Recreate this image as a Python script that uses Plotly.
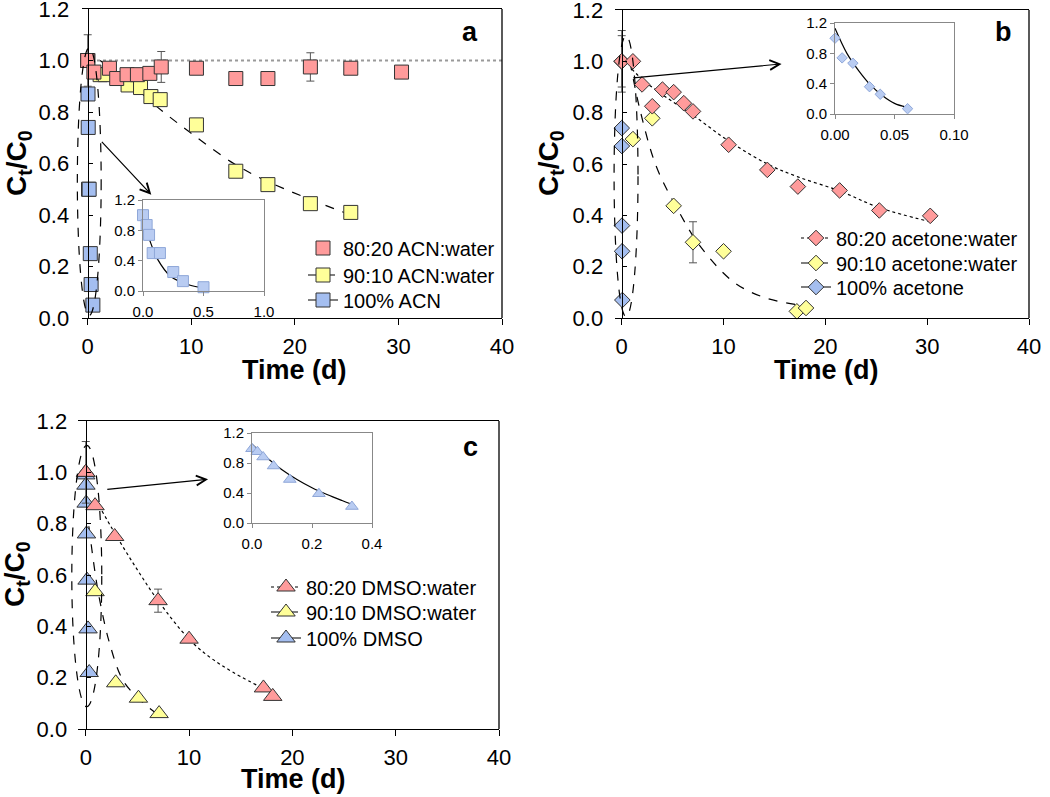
import plotly.graph_objects as go

W, H = 1050, 797
FONT = "Liberation Sans, Arial, sans-serif"
RED = "#FF9B9B"
YEL = "#FFFF99"
BLUE = "#A4BEF0"
IBLUE = "#B9CCF2"
IEDGE = "#8FA7D8"

# ---------------- data ----------------
# panel a: ACN
a_red_x = [0, 0.6, 2.1, 2.8, 3.8, 4.8, 6.0, 7.1, 10.5, 14.3, 17.4, 21.5, 25.4, 30.3]
a_red_y = [1.0, 0.955, 0.97, 0.93, 0.945, 0.945, 0.95, 0.975, 0.97, 0.93, 0.93, 0.975, 0.97, 0.955]
a_red_err = [0.1, 0, 0, 0, 0, 0, 0, 0.06, 0, 0, 0, 0.055, 0, 0]
a_yel_x = [0, 1.2, 1.7, 3.9, 5.1, 6.1, 7.0, 10.5, 14.3, 17.4, 21.5, 25.4]
a_yel_y = [1.0, 0.945, 0.945, 0.905, 0.895, 0.86, 0.848, 0.75, 0.57, 0.518, 0.444, 0.41]
a_blue_x = [0, 0.03, 0.05, 0.08, 0.14, 0.25, 0.33, 0.5]
a_blue_y = [1.0, 0.87, 0.74, 0.5, 0.5, 0.25, 0.13, 0.05]
a_fit_red_x = [0.9, 40]
a_fit_red_y = [1.0, 1.0]
a_fit_yel_x = [1.2, 4.4, 6.7, 9.9, 14.1, 17.0, 20.9, 25.4]
a_fit_yel_y = [1.0, 0.90, 0.82, 0.72, 0.60, 0.537, 0.47, 0.40]
a_fit_blue_x = [0.01, 0.06, 0.12, 0.23, 0.37, 0.52]
a_fit_blue_y = [0.94, 0.65, 0.42, 0.19, 0.085, 0.035]

# panel b: acetone
b_red_x = [0, 1.1, 2.0, 3.0, 4.0, 5.1, 6.1, 7.0, 10.5, 14.3, 17.3, 21.4, 25.3, 30.3]
b_red_y = [1.0, 1.0, 0.91, 0.825, 0.89, 0.88, 0.837, 0.805, 0.675, 0.577, 0.512, 0.497, 0.419, 0.398]
b_red_err = [0.12, 0, 0, 0, 0, 0, 0, 0, 0, 0, 0, 0, 0, 0]
b_yel_x = [0, 1.1, 3.0, 5.1, 7.0, 10.0, 17.2, 18.1]
b_yel_y = [1.0, 0.697, 0.778, 0.437, 0.295, 0.26, 0.026, 0.039]
b_yel_err = [0.1, 0, 0, 0, 0.08, 0, 0, 0]
b_blue_x = [0, 0.006, 0.015, 0.029, 0.038, 0.061]
b_blue_y = [1.0, 0.74, 0.67, 0.36, 0.26, 0.07]
b_fit_red_x = [1.0, 2, 4, 7, 10.5, 14.3, 17.3, 21.4, 25.3, 30.3]
b_fit_red_y = [0.97, 0.93, 0.87, 0.79, 0.69, 0.60, 0.55, 0.495, 0.43, 0.375]
b_fit_yel_x = [0.8, 1.8, 3.4, 5.4, 7.7, 11, 14, 17.5]
b_fit_yel_y = [1.0, 0.81, 0.59, 0.43, 0.28, 0.14, 0.08, 0.05]
b_fit_blue_x = [0.0, 0.01, 0.02, 0.03, 0.04, 0.05, 0.06]
b_fit_blue_y = [1.13, 0.80, 0.57, 0.38, 0.24, 0.14, 0.09]

# panel c: DMSO
c_red_x = [0, 0.9, 2.8, 7.0, 10.0, 17.2, 18.1]
c_red_y = [1.0, 0.87, 0.75, 0.50, 0.35, 0.16, 0.127]
c_red_err = [0.12, 0, 0, 0.045, 0, 0, 0]
c_yel_x = [0, 0.9, 2.9, 5.1, 7.1]
c_yel_y = [1.0, 0.535, 0.18, 0.12, 0.06]
c_blue_x = [0, 0.018, 0.037, 0.072, 0.126, 0.223, 0.333]
c_blue_y = [0.99, 0.95, 0.88, 0.76, 0.58, 0.39, 0.22]
c_fit_red_x = [1.0, 3, 5, 7, 10, 12, 14.3, 17.8]
c_fit_red_y = [0.89, 0.75, 0.62, 0.50, 0.35, 0.28, 0.22, 0.145]
c_fit_yel_x = [0.3, 0.9, 1.36, 2.3, 3.6, 5.2, 7.0]
c_fit_yel_y = [0.79, 0.61, 0.50, 0.335, 0.19, 0.115, 0.056]
c_fit_blue_x = [0, 0.05, 0.1, 0.15, 0.2, 0.25, 0.3, 0.333]
c_fit_blue_y = [1.05, 0.87, 0.71, 0.58, 0.47, 0.38, 0.30, 0.25]

main_xticks = [0, 10, 20, 30, 40]
main_yticks = [0, 0.2, 0.4, 0.6, 0.8, 1.0, 1.2]
inset_yticks = [0, 0.4, 0.8, 1.2]

# ---------------- layout geometry (pixels) ----------------
boxes = {
    "a":  ("", (82, 502, 9, 318), (-0.55, 40), (0, 1.2)),
    "ai": ("2", (143, 264, 200, 291), (0, 1.0), (0, 1.2)),
    "b":  ("3", (615, 1029, 10, 318), (-0.66, 40), (0, 1.2)),
    "bi": ("4", (835, 954, 23, 114), (0, 0.1), (0, 1.2)),
    "c":  ("5", (78, 499, 421, 729), (-0.75, 40), (0, 1.2)),
    "ci": ("6", (252, 372, 433, 523), (0, 0.4), (0, 1.2)),
}


def dom(box):
    x0, x1, y0, y1 = box
    return [x0 / W, x1 / W], [1 - y1 / H, 1 - y0 / H]


def to_paper(name, x, y):
    _, box, xr, yr = boxes[name]
    xd, yd = dom(box)
    px = xd[0] + (x - xr[0]) / (xr[1] - xr[0]) * (xd[1] - xd[0])
    py = yd[0] + (y - yr[0]) / (yr[1] - yr[0]) * (yd[1] - yd[0])
    return px, py


fig = go.Figure()


def ax(name):
    s = boxes[name][0]
    return "x" + s, "y" + s


def markers(name, x, y, symbol, color, size, edge="#333333", err=None, lw=1):
    xa, ya = ax(name)
    kw = {}
    if err is not None:
        kw["error_y"] = dict(type="data", array=err, color="#555555", thickness=1, width=4)
    fig.add_trace(go.Scatter(x=x, y=y, mode="markers", xaxis=xa, yaxis=ya, showlegend=False,
                             cliponaxis=False,
                             marker=dict(symbol=symbol, color=color, size=size,
                                         line=dict(color=edge, width=lw)), **kw))


def fitline(name, x, y, dash, color="black", width=1.2):
    xa, ya = ax(name)
    fig.add_trace(go.Scatter(x=x, y=y, mode="lines", xaxis=xa, yaxis=ya, showlegend=False,
                             cliponaxis=False, line=dict(color=color, width=width, dash=dash, shape="spline")))


legend_slots = []


def legend_item(name, label, symbol, color, size, dash, px, py):
    xa, ya = ax(name)
    key = "legend" if not legend_slots else "legend%d" % (len(legend_slots) + 1)
    legend_slots.append((key, px, py))
    mode = "markers" if dash is None else "lines+markers"
    fig.add_trace(go.Scatter(x=[None], y=[None], mode=mode, xaxis=xa, yaxis=ya, name=label,
                             legend=key,
                             line=dict(color="black", width=1.2, dash=dash or "solid"),
                             marker=dict(symbol=symbol, color=color, size=size,
                                         line=dict(color="#333333", width=1))))


# panel a
fitline("a", a_fit_red_x, a_fit_red_y, "dot", color="#999999", width=2)
fitline("a", a_fit_yel_x, a_fit_yel_y, "dash")
markers("a", a_blue_x, a_blue_y, "square", BLUE, 14)
markers("a", a_yel_x, a_yel_y, "square", YEL, 14)
markers("a", a_red_x, a_red_y, "square", RED, 14, err=a_red_err)
fitline("ai", a_fit_blue_x, a_fit_blue_y, "solid")
markers("ai", a_blue_x, a_blue_y, "square", IBLUE, 11, edge=IEDGE)
legend_item("a", "80:20 ACN:water", "square", RED, 14, None, 306, 248)
legend_item("a", "90:10 ACN:water", "square", YEL, 14, "dash", 306, 275)
legend_item("a", "100% ACN", "square", BLUE, 14, "solid", 306, 300)

# panel b
fitline("b", b_fit_red_x, b_fit_red_y, "dot")
fitline("b", b_fit_yel_x, b_fit_yel_y, "dash")
markers("b", b_blue_x, b_blue_y, "diamond", BLUE, 12)
markers("b", b_yel_x, b_yel_y, "diamond", YEL, 12, err=b_yel_err)
markers("b", b_red_x, b_red_y, "diamond", RED, 12, err=b_red_err)
fitline("bi", b_fit_blue_x, b_fit_blue_y, "solid")
markers("bi", b_blue_x, b_blue_y, "diamond", IBLUE, 8, edge=IEDGE)
legend_item("b", "80:20 acetone:water", "diamond", RED, 12, "dot", 799, 238)
legend_item("b", "90:10 acetone:water", "diamond", YEL, 12, "dash", 799, 263)
legend_item("b", "100% acetone", "diamond", BLUE, 12, "solid", 799, 287)

# panel c
fitline("c", c_fit_red_x, c_fit_red_y, "dot")
fitline("c", c_fit_yel_x, c_fit_yel_y, "dash")
markers("c", c_blue_x, c_blue_y, "triangle-up", BLUE, 16)
markers("c", c_yel_x, c_yel_y, "triangle-up", YEL, 16)
markers("c", c_red_x, c_red_y, "triangle-up", RED, 16, err=c_red_err)
fitline("ci", c_fit_blue_x, c_fit_blue_y, "solid")
markers("ci", c_blue_x, c_blue_y, "triangle-up", IBLUE, 11, edge=IEDGE)
legend_item("c", "80:20 DMSO:water", "triangle-up", RED, 16, "dot", 269, 587)
legend_item("c", "90:10 DMSO:water", "triangle-up", YEL, 16, "dash", 269, 612)
legend_item("c", "100% DMSO", "triangle-up", BLUE, 16, "solid", 269, 638)

# ---------------- axes ----------------
layout = {}
inset_xticks = {"ai": ([0, 0.5, 1.0], ["0.0", "0.5", "1.0"]),
                "bi": ([0, 0.05, 0.1], ["0.00", "0.05", "0.10"]),
                "ci": ([0, 0.2, 0.4], ["0.0", "0.2", "0.4"])}
for name, (s, box, xr, yr) in boxes.items():
    xd, yd = dom(box)
    xk = "xaxis" + s
    yk = "yaxis" + s
    if name in ("a", "b", "c"):
        layout[xk] = dict(domain=xd, range=list(xr), anchor="y" + s, tickvals=main_xticks,
                          ticks="outside", ticklen=6, tickcolor="black", showline=True,
                          linecolor="black", linewidth=1.3, mirror=True, showgrid=False,
                          zeroline=False, tickfont=dict(size=22, color="black"),
                          ticklabelstandoff=2, automargin=False, ticklabeloverflow="allow")
        layout[yk] = dict(domain=yd, range=list(yr), anchor="free",
                          position=to_paper(name, 0, 0)[0], tickvals=main_yticks,
                          ticktext=["%.1f" % v for v in main_yticks],
                          ticks="inside", ticklen=4, tickcolor="black", showline=True,
                          linecolor="black", linewidth=1.3, showgrid=False, zeroline=False,
                          tickfont=dict(size=22, color="black"), ticklabelstandoff=14,
                          automargin=False, ticklabeloverflow="allow")
    else:
        tv, tt = inset_xticks[name]
        layout[xk] = dict(domain=xd, range=list(xr), anchor="y" + s, tickvals=tv, ticktext=tt,
                          ticks="outside", ticklen=4, tickcolor="#888888", showline=True,
                          linecolor="#888888", linewidth=1, mirror=True, showgrid=False,
                          zeroline=False, tickfont=dict(size=15, color="black"),
                          ticklabelstandoff=3, automargin=False, ticklabeloverflow="allow")
        layout[yk] = dict(domain=yd, range=list(yr), anchor="x" + s, tickvals=inset_yticks,
                          ticktext=["%.1f" % v for v in inset_yticks],
                          ticks="outside", ticklen=4, tickcolor="#888888", showline=True,
                          linecolor="#888888", linewidth=1, mirror=True, showgrid=False,
                          zeroline=False, tickfont=dict(size=15, color="black"),
                          automargin=False, ticklabeloverflow="allow")

# ---------------- decorations ----------------
shapes = []
for name in ("a", "b", "c"):
    s = boxes[name][0]
    shapes.append(dict(type="line", xref="x%s domain" % s, yref="y%s domain" % s,
                       x0=1, x1=1, y0=0, y1=1, line=dict(color="black", width=1.3)))

ellipses = {"a": (-1.0, 1.3, 0.01, 1.05), "b": (-0.75, 1.6, 0.005, 1.10),
            "c": (-1.35, 1.55, 0.087, 1.105)}
for name, (ex0, ex1, ey0, ey1) in ellipses.items():
    px0, py0 = to_paper(name, ex0, ey0)
    px1, py1 = to_paper(name, ex1, ey1)
    shapes.append(dict(type="circle", xref="paper", yref="paper", x0=px0, x1=px1, y0=py0, y1=py1,
                       line=dict(color="black", width=1.2, dash="dash")))

annotations = []
arrows = {"a": ((1.23, 0.69), (6.14, 0.479)), "b": ((0.98, 0.935), (15.7, 0.99)),
          "c": ((1.94, 0.933), (11.84, 0.973))}
for name, ((sx, sy), (ex, ey)) in arrows.items():
    px0, py0 = to_paper(name, sx, sy)
    px1, py1 = to_paper(name, ex, ey)
    annotations.append(dict(xref="paper", yref="paper", x=px1, y=py1,
                            ax=(px0 - px1) * W, ay=-(py0 - py1) * H,
                            showarrow=True, text="",
                            arrowhead=5, arrowsize=1.6, arrowwidth=1.2, arrowcolor="black"))


def label(text, x, y, size=27, angle=0):
    annotations.append(dict(xref="paper", yref="paper", x=x / W, y=1 - y / H, text=text,
                            textangle=angle, showarrow=False, xanchor="center",
                            yanchor="middle", font=dict(size=size, color="black")))


ylab = "<b>C<sub>t</sub>/C<sub>0</sub></b>"
for (x, y) in [(18, 163), (550, 163), (16, 574)]:
    label(ylab, x, y, size=28, angle=-90)
for (x, y) in [(294, 370), (826, 370), (293, 779)]:
    label("<b>Time (d)</b>", x, y)
for (t, x, y) in [("a", 470, 32), ("b", 1003, 32), ("c", 470, 447)]:
    label("<b>%s</b>" % t, x, y)

for key, px, py in legend_slots:
    layout[key] = dict(font=dict(size=20, color="black"), bgcolor="rgba(0,0,0,0)",
                       borderwidth=0, xanchor="left", yanchor="middle", itemwidth=30,
                       x=(px - 3) / W, y=1 - py / H)

fig.update_layout(width=W, height=H, margin=dict(l=0, r=0, t=0, b=0, autoexpand=False),
                  plot_bgcolor="white", paper_bgcolor="white",
                  font=dict(family=FONT, color="black"),
                  shapes=shapes, annotations=annotations, **layout)

# the page's default body margin would shift the whole figure by 8 px
fig.write_html("out.html", config={"displayModeBar": False},
               post_script="document.body.style.margin='0px';")
